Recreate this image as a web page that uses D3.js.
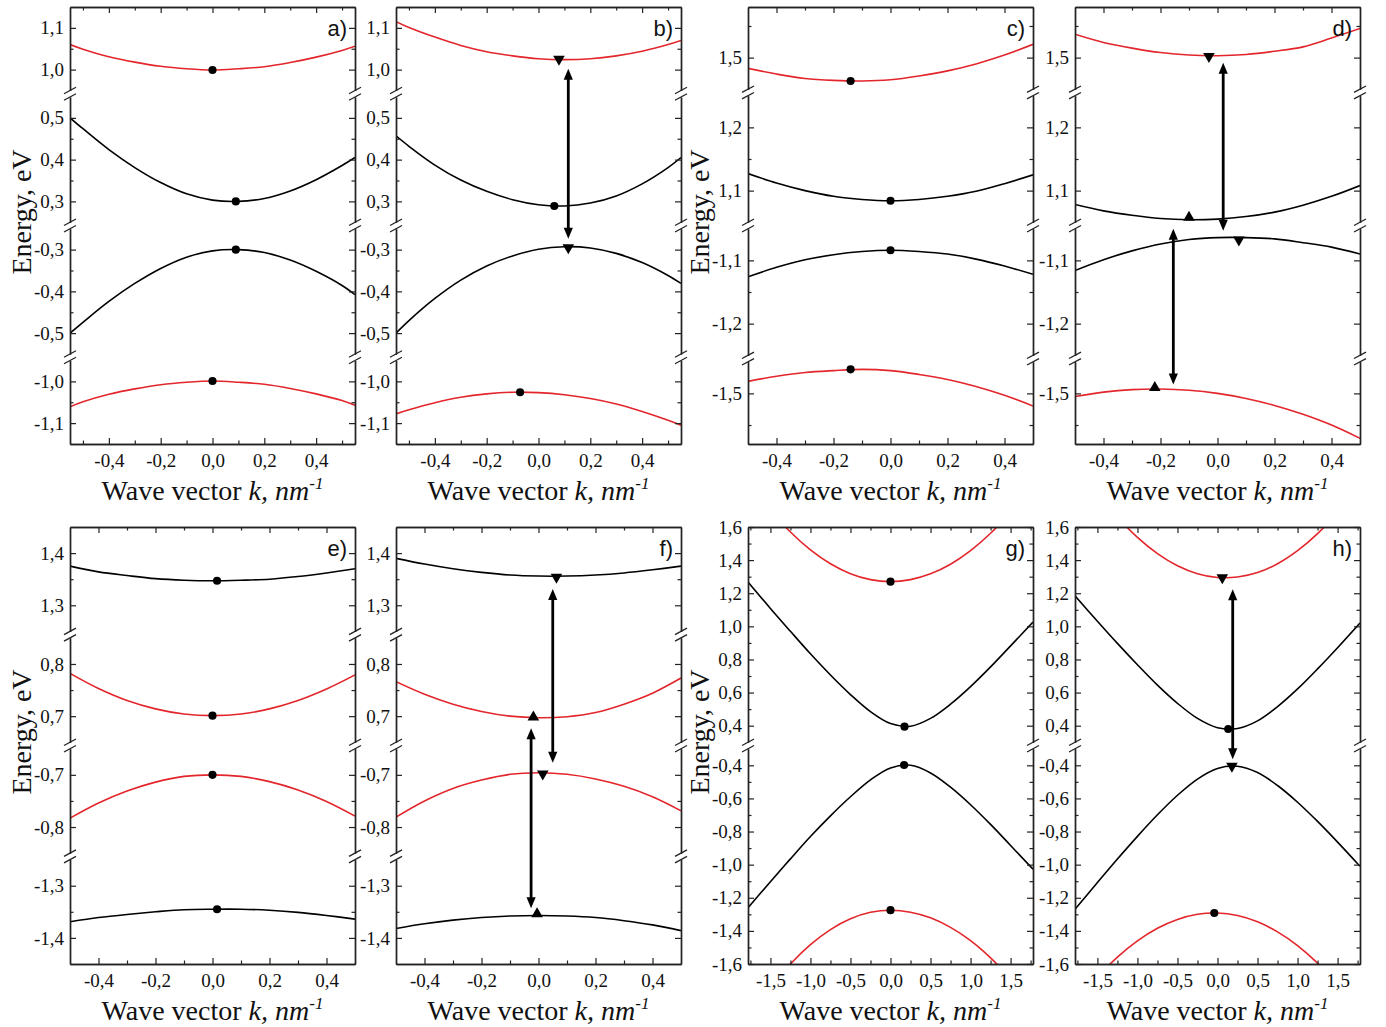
<!DOCTYPE html>
<html><head><meta charset="utf-8">
<script src="https://cdn.jsdelivr.net/npm/d3@7"></script>
<style>body{margin:0;background:#fff}</style>
</head><body>
<svg id="c" width="1386" height="1027"></svg>
<script>
// ---------- DATA ----------
// wave-vector samples (nm^-1)
const kAB = [-0.55,-0.5,-0.4,-0.3,-0.2,-0.1,0,0.1,0.2,0.3,0.4,0.5,0.55];
const kCF = [-0.5,-0.4,-0.3,-0.2,-0.1,0,0.1,0.2,0.3,0.4,0.5];
const kGH = [-1.78,-1.5,-1.25,-1.0,-0.75,-0.5,-0.25,0,0.25,0.5,0.75,1.0,1.25,1.5,1.78];

// x domains
const xDomAB = [-0.55,0.55];
const xDomCF = [-0.5,0.5];
const xDomGH = [-1.78,1.78];

// broken y-axis segments (eV), top to bottom
const segAB = [[0.95,1.15],[0.25,0.55],[-0.55,-0.25],[-1.15,-0.95]];
const segCD = [[1.45,1.58],[1.05,1.25],[-1.25,-1.05],[-1.58,-1.45]];
const segEF = [[1.25,1.45],[0.65,0.85],[-0.85,-0.65],[-1.45,-1.25]];
const segGH = [[0.3,1.6],[-1.6,-0.3]];

// panel a
const aRed1 = [1.060,1.049,1.031,1.018,1.008,1.002,0.999,1.002,1.007,1.017,1.030,1.046,1.056];
const aBlk1 = [0.500,0.474,0.424,0.381,0.345,0.318,0.303,0.300,0.307,0.325,0.352,0.386,0.405];
const aBlk2 = [-0.500,-0.474,-0.424,-0.381,-0.345,-0.318,-0.303,-0.300,-0.307,-0.325,-0.352,-0.386,-0.408];
const aRed2 = [-1.061,-1.049,-1.031,-1.018,-1.008,-1.002,-0.999,-1.002,-1.007,-1.017,-1.030,-1.046,-1.057];
const aMarks = [[0,0.999,"o"],[0.09,0.300,"o"],[0.09,-0.300,"o"],[0,-0.999,"o"]];
const aArrows = [];
// panel b
const bRed1 = [1.115,1.101,1.078,1.058,1.043,1.033,1.026,1.024,1.026,1.033,1.044,1.060,1.070];
const bBlk1 = [0.457,0.432,0.387,0.351,0.324,0.304,0.292,0.289,0.296,0.313,0.342,0.381,0.405];
const bBlk2 = [-0.500,-0.470,-0.417,-0.373,-0.339,-0.315,-0.299,-0.293,-0.296,-0.309,-0.331,-0.362,-0.381];
const bRed2 = [-1.078,-1.068,-1.051,-1.038,-1.030,-1.026,-1.027,-1.032,-1.041,-1.054,-1.072,-1.093,-1.105];
const bMarks = [[0.079,1.025,"v"],[0.061,0.289,"o"],[0.115,-0.295,"v"],[-0.071,-1.026,"o"]];
const bArrows = [[0.115,1.002,-0.274]];
// panel c
const cRed1 = [1.483,1.474,1.467,1.464,1.463,1.465,1.471,1.479,1.490,1.504,1.521];
const cBlk1 = [1.127,1.112,1.100,1.091,1.086,1.084,1.086,1.091,1.099,1.111,1.125];
const cBlk2 = [-1.126,-1.111,-1.099,-1.091,-1.086,-1.084,-1.086,-1.090,-1.098,-1.109,-1.122];
const cRed2 = [-1.481,-1.473,-1.467,-1.464,-1.462,-1.464,-1.470,-1.478,-1.489,-1.503,-1.520];
const cMarks = [[-0.14,1.463,"o"],[0,1.084,"o"],[0,-1.084,"o"],[-0.14,-1.462,"o"]];
const cArrows = [];
// panel d
const dRed1 = [1.537,1.524,1.515,1.508,1.504,1.503,1.505,1.510,1.517,1.531,1.546];
const dBlk1 = [1.078,1.068,1.061,1.056,1.054,1.055,1.059,1.066,1.077,1.091,1.108];
const dBlk2 = [-1.116,-1.099,-1.085,-1.074,-1.067,-1.064,-1.064,-1.066,-1.072,-1.079,-1.090];
const dRed2 = [-1.505,-1.498,-1.494,-1.493,-1.495,-1.500,-1.508,-1.519,-1.533,-1.550,-1.571];
const dMarks = [[-0.03,1.502,"v"],[-0.1,1.0575,"^"],[0.075,-1.0675,"v"],[-0.22,-1.491,"^"]];
const dArrows = [[0.02,1.492,-1.053],[-0.155,-1.05,-1.486]];
// panel e
const eBlk1 = [1.375,1.364,1.357,1.351,1.348,1.347,1.348,1.350,1.355,1.362,1.370];
const eRed1 = [0.782,0.753,0.730,0.714,0.704,0.701,0.704,0.714,0.730,0.752,0.779];
const eRed2 = [-0.783,-0.754,-0.731,-0.714,-0.703,-0.700,-0.703,-0.713,-0.729,-0.751,-0.779];
const eBlk2 = [-1.369,-1.361,-1.355,-1.350,-1.346,-1.345,-1.345,-1.347,-1.351,-1.357,-1.364];
const eMarks = [[0.016,1.347,"o"],[0,0.701,"o"],[0,-0.700,"o"],[0.016,-1.345,"o"]];
const eArrows = [];
// panel f
const fBlk1 = [1.390,1.379,1.370,1.363,1.358,1.356,1.356,1.358,1.362,1.368,1.375];
const fRed1 = [0.766,0.742,0.723,0.709,0.700,0.697,0.699,0.707,0.723,0.744,0.773];
const fRed2 = [-0.781,-0.750,-0.726,-0.710,-0.699,-0.696,-0.699,-0.708,-0.722,-0.742,-0.769];
const fBlk2 = [-1.382,-1.373,-1.366,-1.361,-1.358,-1.357,-1.358,-1.361,-1.367,-1.375,-1.386];
const fMarks = [[0.063,1.354,"v"],[-0.018,0.698,"^"],[0.015,-0.698,"v"],[-0.005,-1.354,"^"]];
const fArrows = [[0.05,1.331,-0.677],[-0.026,0.677,-1.343]];
// panel g
const gRed1 = [1.878,1.702,1.570,1.462,1.378,1.318,1.282,1.270,1.282,1.317,1.375,1.457,1.562,1.690,1.861];
const gBlk1 = [1.268,1.108,0.970,0.834,0.706,0.588,0.485,0.413,0.397,0.444,0.530,0.636,0.755,0.882,1.026];
const gBlk2 = [-1.260,-1.103,-0.965,-0.830,-0.705,-0.590,-0.488,-0.416,-0.400,-0.446,-0.532,-0.638,-0.757,-0.884,-1.028];
const gRed2 = [-1.934,-1.743,-1.600,-1.483,-1.392,-1.327,-1.288,-1.275,-1.287,-1.321,-1.379,-1.459,-1.563,-1.689,-1.858];
const gMarks = [[0,1.27,"o"],[0.175,0.394,"o"],[0.17,-0.398,"o"],[0,-1.275,"o"]];
const gArrows = [];
// panel h
const hRed1 = [2.007,1.810,1.661,1.537,1.439,1.366,1.318,1.295,1.298,1.325,1.378,1.457,1.560,1.689,1.863];
const hBlk1 = [1.184,1.031,0.897,0.768,0.645,0.535,0.444,0.388,0.383,0.429,0.515,0.622,0.743,0.871,1.020];
const hBlk2 = [-1.270,-1.108,-0.966,-0.829,-0.699,-0.581,-0.483,-0.419,-0.406,-0.444,-0.522,-0.623,-0.739,-0.864,-1.010];
const hRed2 = [-1.843,-1.680,-1.558,-1.460,-1.384,-1.331,-1.300,-1.292,-1.307,-1.345,-1.406,-1.489,-1.595,-1.724,-1.895];
const hMarks = [[0.06,1.294,"v"],[0.134,0.380,"o"],[0.18,-0.404,"v"],[-0.04,-1.292,"o"]];
const hArrows = [[0.19,1.224,-0.363]];

const panelLetters = ["a)","b)","c)","d)","e)","f)","g)","h)"];
const yTitle = "Energy, eV";

// ---------- DRAWING ----------
const RED = "#e3262b";
const svg = d3.select("#c");
const W = 285, H = 437, GAP = 6.5;
const colX = [70, 396, 748, 1075], rowY = [7, 527];
const SERIF = "'Liberation Serif','Times New Roman',serif";
const SANS = "'Liberation Sans',Arial,sans-serif";

const panels = [
  {col:0,row:0,k:kAB,xDom:xDomAB,seg:segAB,yMaj:0.1,yMin:0.05,xMaj:0.2,xMin:0.1,curves:[[aRed1,RED],[aBlk1,"#000"],[aBlk2,"#000"],[aRed2,RED]],marks:aMarks,arrows:aArrows},
  {col:1,row:0,k:kAB,xDom:xDomAB,seg:segAB,yMaj:0.1,yMin:0.05,xMaj:0.2,xMin:0.1,curves:[[bRed1,RED],[bBlk1,"#000"],[bBlk2,"#000"],[bRed2,RED]],marks:bMarks,arrows:bArrows},
  {col:2,row:0,k:kCF,xDom:xDomCF,seg:segCD,yMaj:0.1,yMin:0.05,xMaj:0.2,xMin:0.1,curves:[[cRed1,RED],[cBlk1,"#000"],[cBlk2,"#000"],[cRed2,RED]],marks:cMarks,arrows:cArrows},
  {col:3,row:0,k:kCF,xDom:xDomCF,seg:segCD,yMaj:0.1,yMin:0.05,xMaj:0.2,xMin:0.1,curves:[[dRed1,RED],[dBlk1,"#000"],[dBlk2,"#000"],[dRed2,RED]],marks:dMarks,arrows:dArrows},
  {col:0,row:1,k:kCF,xDom:xDomCF,seg:segEF,yMaj:0.1,yMin:0.05,xMaj:0.2,xMin:0.1,curves:[[eBlk1,"#000"],[eRed1,RED],[eRed2,RED],[eBlk2,"#000"]],marks:eMarks,arrows:eArrows},
  {col:1,row:1,k:kCF,xDom:xDomCF,seg:segEF,yMaj:0.1,yMin:0.05,xMaj:0.2,xMin:0.1,curves:[[fBlk1,"#000"],[fRed1,RED],[fRed2,RED],[fBlk2,"#000"]],marks:fMarks,arrows:fArrows},
  {col:2,row:1,k:kGH,xDom:xDomGH,seg:segGH,yMaj:0.2,yMin:0.1,xMaj:0.5,xMin:0.25,curves:[[gRed1,RED],[gBlk1,"#000"],[gBlk2,"#000"],[gRed2,RED]],marks:gMarks,arrows:gArrows},
  {col:3,row:1,k:kGH,xDom:xDomGH,seg:segGH,yMaj:0.2,yMin:0.1,xMaj:0.5,xMin:0.25,curves:[[hRed1,RED],[hBlk1,"#000"],[hBlk2,"#000"],[hRed2,RED]],marks:hMarks,arrows:hArrows}
];

function fmt(v){ const s = Math.abs(v).toFixed(1).replace(".", ","); return (v < -1e-9 ? "-" : "") + s; }
function isMult(v, step){ const r = v/step; return Math.abs(r - Math.round(r)) < 1e-6; }
function ticksIn(lo, hi, step, inclusive){
  const out = [];
  const n0 = Math.ceil(lo/step - 1e-6), n1 = Math.floor(hi/step + 1e-6);
  for (let n = n0; n <= n1; n++){
    const v = +(n*step).toFixed(6);
    if (!inclusive && (Math.abs(v-lo) < 1e-6 || Math.abs(v-hi) < 1e-6)) continue;
    out.push(v);
  }
  return out;
}
function styleAxis(sel){
  sel.attr("font-family", SERIF).attr("font-size", 19);
  sel.select(".domain").attr("stroke", "#222").attr("stroke-width", 1.4);
  sel.selectAll(".tick line").attr("stroke", "#222").attr("stroke-width", 1.2);
  sel.selectAll(".tick text").attr("fill", "#111");
}

panels.forEach((p, pi) => {
  const g = svg.append("g").attr("transform", `translate(${colX[p.col]},${rowY[p.row]})`);
  const x = d3.scaleLinear().domain(p.xDom).range([0, W]);
  const spans = p.seg.map(s => s[1]-s[0]);
  const pxPer = (H - GAP*(p.seg.length-1)) / d3.sum(spans);
  let y0 = 0;
  const segs = p.seg.map((s, i) => {
    const h = spans[i]*pxPer;
    const o = {lo:s[0], hi:s[1], top:y0, bot:y0+h, sc:d3.scaleLinear().domain(s).range([y0+h, y0])};
    y0 += h + GAP;
    return o;
  });
  const segOf = v => segs.find(s => v >= s.lo-1e-6 && v <= s.hi+1e-6) ||
    segs.reduce((b, s) => { const d = Math.min(Math.abs(v-s.lo), Math.abs(v-s.hi)); return d < b.d ? {d, s} : b; }, {d:Infinity}).s;
  const yOf = v => segOf(v).sc(v);

  const defs = g.append("defs");
  segs.forEach((s, i) => defs.append("clipPath").attr("id", `clip-${pi}-${i}`)
    .append("rect").attr("x", 0).attr("y", s.top).attr("width", W).attr("height", s.bot - s.top));

  // curves
  p.curves.forEach(([vals, color]) => {
    const s = segOf(vals[Math.floor(vals.length/2)]);
    const si = segs.indexOf(s);
    const line = d3.line().x((d, i) => x(p.k[i])).y(d => s.sc(d)).curve(d3.curveCatmullRom.alpha(0.5));
    g.append("path").datum(vals).attr("d", line).attr("fill", "none")
      .attr("stroke", color).attr("stroke-width", 1.6).attr("clip-path", `url(#clip-${pi}-${si})`);
  });

  // y axes per segment
  segs.forEach(s => {
    const maj = ticksIn(s.lo, s.hi, p.yMaj, true);
    const mins = ticksIn(s.lo, s.hi, p.yMin, false).filter(v => !isMult(v, p.yMaj));
    g.append("g").call(d3.axisLeft(s.sc).tickValues(maj).tickFormat(fmt).tickSize(-6).tickSizeOuter(0).tickPadding(6)).call(styleAxis);
    g.append("g").call(d3.axisLeft(s.sc).tickValues(mins).tickFormat("").tickSize(-3.5).tickSizeOuter(0)).call(styleAxis);
    g.append("g").attr("transform", `translate(${W},0)`).call(d3.axisRight(s.sc).tickValues(maj).tickFormat("").tickSize(-6).tickSizeOuter(0)).call(styleAxis);
    g.append("g").attr("transform", `translate(${W},0)`).call(d3.axisRight(s.sc).tickValues(mins).tickFormat("").tickSize(-3.5).tickSizeOuter(0)).call(styleAxis);
  });
  // break marks
  for (let i = 0; i < segs.length-1; i++){
    [segs[i].bot, segs[i+1].top].forEach(yy => {
      [0, W].forEach(xx => {
        g.append("line").attr("x1", xx-6).attr("y1", yy+3.2).attr("x2", xx+6).attr("y2", yy-3.2)
          .attr("stroke", "#222").attr("stroke-width", 1.3);
      });
    });
  }
  // x axes
  const xmaj = ticksIn(p.xDom[0], p.xDom[1], p.xMaj, true);
  const xmin = ticksIn(p.xDom[0], p.xDom[1], p.xMin, false).filter(v => !isMult(v, p.xMaj));
  g.append("g").attr("transform", `translate(0,${H})`).call(d3.axisBottom(x).tickValues(xmaj).tickFormat(fmt).tickSize(-6).tickSizeOuter(0).tickPadding(10)).call(styleAxis);
  g.append("g").attr("transform", `translate(0,${H})`).call(d3.axisBottom(x).tickValues(xmin).tickFormat("").tickSize(-3.5).tickSizeOuter(0)).call(styleAxis);
  g.append("g").call(d3.axisTop(x).tickValues(xmaj).tickFormat("").tickSize(-6).tickSizeOuter(0)).call(styleAxis);
  g.append("g").call(d3.axisTop(x).tickValues(xmin).tickFormat("").tickSize(-3.5).tickSizeOuter(0)).call(styleAxis);

  // markers
  const symC = d3.symbol(d3.symbolCircle, 52), symT = d3.symbol(d3.symbolTriangle, 58);
  p.marks.forEach(([k, E, t]) => {
    g.append("path").attr("d", t === "o" ? symC() : symT())
      .attr("transform", `translate(${x(k)},${yOf(E)})${t === "v" ? " rotate(180)" : ""}`)
      .attr("fill", "#000");
  });
  // arrows
  p.arrows.forEach(([k, E1, E2]) => {
    const ax = x(k), ya = yOf(E1), yb = yOf(E2), hl = 11, hw = 4.6;
    g.append("line").attr("x1", ax).attr("x2", ax).attr("y1", ya+hl-1).attr("y2", yb-hl+1)
      .attr("stroke", "#000").attr("stroke-width", 2.8);
    g.append("path").attr("d", `M${ax},${ya}L${ax-hw},${ya+hl}L${ax+hw},${ya+hl}Z`).attr("fill", "#000");
    g.append("path").attr("d", `M${ax},${yb}L${ax-hw},${yb-hl}L${ax+hw},${yb-hl}Z`).attr("fill", "#000");
  });

  // panel letter
  g.append("text").attr("x", W-8).attr("y", 29).attr("text-anchor", "end")
    .attr("font-family", SANS).attr("font-size", 22).attr("fill", "#111").text(panelLetters[pi]);
  // x title
  const t = g.append("text").attr("x", W/2).attr("y", H+56).attr("text-anchor", "middle")
    .attr("font-family", SERIF).attr("font-size", 28).attr("fill", "#111");
  t.append("tspan").text("Wave vector ");
  t.append("tspan").attr("font-style", "italic").text("k, nm");
  t.append("tspan").attr("font-style", "italic").attr("font-size", 17).attr("dy", -11).text("-1");
  // y title
  if (p.col === 0 || p.col === 2){
    svg.append("text").attr("transform", `translate(${colX[p.col]-39},${rowY[p.row]+205}) rotate(-90)`)
      .attr("text-anchor", "middle").attr("font-family", SERIF).attr("font-size", 28).attr("fill", "#111")
      .text(yTitle);
  }
});
</script>
</body></html>
